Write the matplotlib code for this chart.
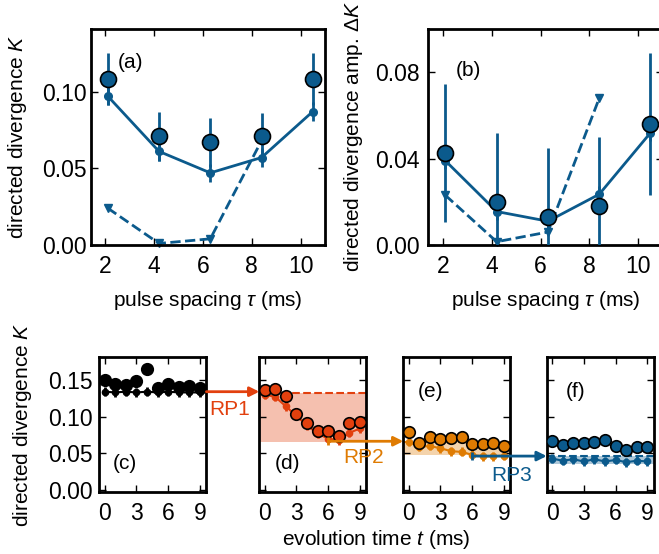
import numpy as np
import matplotlib
matplotlib.use("Agg")
import matplotlib.pyplot as plt
from matplotlib.patches import ConnectionPatch

plt.rcParams['font.family'] = ['Liberation Sans', 'DejaVu Sans']
plt.rcParams['mathtext.fontset'] = 'custom'
plt.rcParams['mathtext.rm'] = 'Liberation Sans'
plt.rcParams['mathtext.it'] = 'Liberation Sans:italic'

# pulse spacing scan
tau = [2.1, 4.2, 6.3, 8.4, 10.5]
K_exp = [0.108, 0.071, 0.067, 0.071, 0.108]
K_exp_err = [0.017, 0.016, 0.016, 0.015, 0.017]
K_sim = [0.097, 0.061, 0.047, 0.057, 0.087]
K_sim_err = [0.006, 0.006, 0.006, 0.006, 0.006]
K_model = [0.024, 0.001, 0.004, 0.068]

dK_exp = [0.0425, 0.020, 0.013, 0.018, 0.056]
dK_exp_err = [0.032, 0.032, 0.032, 0.032, 0.033]
dK_sim = [0.039, 0.0155, 0.011, 0.0235, 0.052]
dK_sim_err = [0.004, 0.004, 0.004, 0.004, 0.004]
dK_model = [0.023, 0.0015, 0.006, 0.068]

# evolution time traces
t = [0, 1, 2, 3, 4, 5, 6, 7, 8, 9]
Kc_exp = [0.150, 0.144, 0.143, 0.148, 0.165, 0.139, 0.145, 0.141, 0.142, 0.139]
Kc_sim = [0.134, 0.133, 0.134, 0.133, 0.134, 0.133, 0.134, 0.133, 0.133, 0.133]
Kd_exp = [0.136, 0.137, 0.128, 0.104, 0.092, 0.081, 0.080, 0.073, 0.091, 0.093]
Kd_sim = [0.130, 0.127, 0.114, 0.101, 0.088, 0.077, 0.070, 0.068, 0.078, 0.084]
Ke_exp = [0.079, 0.064, 0.072, 0.070, 0.071, 0.072, 0.063, 0.063, 0.064, 0.060]
Ke_sim = [0.066, 0.059, 0.060, 0.057, 0.053, 0.052, 0.048, 0.046, 0.046, 0.047]
Kf_exp = [0.067, 0.062, 0.064, 0.064, 0.065, 0.068, 0.060, 0.055, 0.059, 0.059]
Kf_sim = [0.043, 0.040, 0.042, 0.039, 0.042, 0.039, 0.041, 0.038, 0.040, 0.039]
exp_err = 0.008
sim_err = 0.006

# reference levels (band top, band bottom) for each refocusing stage
band_d = [0.132, 0.065]
band_e = [0.066, 0.048]
band_f = [0.047, 0.036]
rp_levels = [0.134, 0.0665, 0.0463]

blue = '#0b5a8c'
red = '#e2400e'
orange = '#df7b02'
black = 'black'
fs = 15
tfs = 16.5


def style(ax, xpad=7, ypad=3):
    ax.tick_params(direction='in', top=True, right=True, length=5, width=1,
                   labelsize=tfs)
    ax.tick_params(axis='x', pad=xpad)
    ax.tick_params(axis='y', pad=ypad)
    for s in ax.spines.values():
        s.set_linewidth(2)


fig = plt.figure(figsize=(6.59, 5.54), dpi=100)

# ---- (a) and (b): vs pulse spacing
ax_a = fig.add_axes([0.1376, 0.5578, 0.3556, 0.3899])
ax_b = fig.add_axes([0.6500, 0.5578, 0.3556, 0.3899])

for ax, ye, ee, ys, es, ym in [(ax_a, K_exp, K_exp_err, K_sim, K_sim_err, K_model),
                               (ax_b, dK_exp, dK_exp_err, dK_sim, dK_sim_err, dK_model)]:
    ax.plot(tau[:4], ym, '--v', color=blue, lw=2, ms=6, clip_on=False, zorder=2)
    ax.errorbar(tau, ys, yerr=es, fmt='-o', color=blue, lw=2, elinewidth=2,
                ms=5.5, capsize=0, zorder=3)
    ax.errorbar(tau, ye, yerr=ee, fmt='o', color=blue, mfc=blue, mec='black',
                mew=1.2, ms=11.5, elinewidth=2, capsize=0, zorder=4)
    ax.set_xlim(1.4, 11.0)
    ax.set_xticks([2, 4, 6, 8, 10])
    ax.set_xlabel(r'pulse spacing $\tau$ (ms)', fontsize=fs, labelpad=8)

ax_a.set_ylim(0, 0.1408)
ax_a.set_yticks([0, 0.05, 0.10])
ax_a.set_yticklabels(['0.00', '0.05', '0.10'])
ax_a.set_ylabel(r'directed divergence $K$', fontsize=fs)
ax_a.yaxis.set_label_coords(-0.263, 0.5)
ax_a.text(0.117, 0.843, '(a)', transform=ax_a.transAxes, fontsize=fs, va='center')
style(ax_a, ypad=3)

ax_b.set_ylim(0, 0.1001)
ax_b.set_yticks([0, 0.04, 0.08])
ax_b.set_yticklabels(['0.00', '0.04', '0.08'])
ax_b.set_ylabel(r'directed divergence amp. $\Delta K$', fontsize=fs)
ax_b.yaxis.set_label_coords(-0.27, 0.5)
ax_b.text(0.118, 0.81, '(b)', transform=ax_b.transAxes, fontsize=fs, va='center')
style(ax_b, ypad=6)

# ---- (c)-(f): vs evolution time
bottom, height, width = 0.1114, 0.2436, 0.1625
lefts = [0.1507, 0.3935, 0.6120, 0.8296]
axs = [fig.add_axes([l, bottom, width, height]) for l in lefts]
ax_c, ax_d, ax_e, ax_f = axs

series = [(ax_c, Kc_exp, Kc_sim, black, None, '(c)', (0.127, 0.21)),
          (ax_d, Kd_exp, Kd_sim, red, band_d, '(d)', (0.148, 0.21)),
          (ax_e, Ke_exp, Ke_sim, orange, band_e, '(e)', (0.138, 0.75)),
          (ax_f, Kf_exp, Kf_sim, blue, band_f, '(f)', (0.18, 0.75))]

for ax, ye, ys, col, band, lab, pos in series:
    if band is not None:
        ax.axhspan(band[1], band[0], color=col, alpha=0.33, lw=0, zorder=1)
        ax.axhline(band[0], color=col, ls='--', lw=1.5, zorder=1.5)
    ax.errorbar(t, ys, yerr=sim_err, fmt='-o', color=col, lw=1.5, elinewidth=2,
                ms=4.5, capsize=0, zorder=3)
    ax.errorbar(t, ye, yerr=exp_err, fmt='o', color=col, mfc=col, mec='black',
                mew=1.2, ms=8.3, elinewidth=2, capsize=0, zorder=4)
    ax.set_xlim(-0.5, 9.6)
    ax.set_ylim(-0.003, 0.1808)
    ax.set_xticks([0, 3, 6, 9])
    ax.set_yticks([0, 0.05, 0.10, 0.15])
    ax.text(pos[0], pos[1], lab, transform=ax.transAxes, fontsize=fs, va='center')
    style(ax, xpad=7, ypad=5)
    if ax is not ax_c:
        ax.set_yticklabels([])

ax_c.set_yticklabels(['0.00', '0.05', '0.10', '0.15'])
ax_c.set_ylabel(r'directed divergence $K$', fontsize=fs)
ax_c.yaxis.set_label_coords(-0.614, 0.5)
fig.text(0.5706, 0.0253, r'evolution time $t$ (ms)', fontsize=fs,
         ha='center', va='center')

# refocusing arrows between stages
arrows = [(ax_c, (1, rp_levels[0]), ax_c.get_yaxis_transform(), ax_d, red, 'RP1', (0.349, 0.2617)),
          (ax_d, (6, rp_levels[1]), ax_d.transData, ax_e, orange, 'RP2', (0.5524, 0.1742)),
          (ax_e, (6, rp_levels[2]), ax_e.transData, ax_f, blue, 'RP3', (0.7765, 0.1420))]
for src, start, tr, dst, col, name, tpos in arrows:
    con = ConnectionPatch(xyA=start, coordsA=tr,
                          xyB=(0, start[1]), coordsB=dst.get_yaxis_transform(),
                          arrowstyle='-|>', mutation_scale=14, color=col,
                          lw=2, shrinkA=0, shrinkB=0, zorder=6)
    fig.add_artist(con)
    if tr is src.transData:
        src.plot([start[0]], [start[1]], '|', color=col, ms=6, mew=2,
                 clip_on=False, zorder=6)
    fig.text(tpos[0], tpos[1], name, color=col, fontsize=fs, ha='center', va='center')

fig.savefig('out.png', dpi=100)
